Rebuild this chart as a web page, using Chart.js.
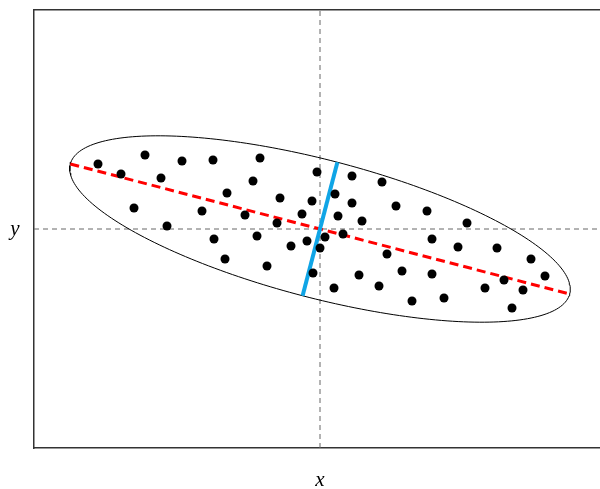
<!DOCTYPE html>
<html>
<head>
<meta charset="utf-8">
<title>Scatter with ellipse</title>
<script src="https://cdn.jsdelivr.net/npm/chart.js@4/dist/chart.umd.min.js"></script>
<style>
    html, body { margin: 0; padding: 0; background: #fff; overflow: hidden; }
    canvas { display: block; }
</style>
</head>
<body>
<canvas id="scatterChart" width="600" height="489"></canvas>
<script>
// Sample points (x, y)
const pointsX = [-2.22, -1.99, -1.75, -1.38, -1.07, -1.59, -1.86, -1.53, -1.18, -1.06,
    -0.95, -0.93, -0.75, -0.67, -0.60, -0.53, -0.63, -0.43, -0.40, -0.29,
    -0.18, -0.13, -0.08, -0.03, -0.07, 0.00, 0.05, 0.15, 0.18, 0.23,
    0.14, 0.32, 0.32, 0.42, 0.39, 0.62, 0.67, 0.59, 0.76, 0.82,
    0.92, 1.07, 1.12, 1.12, 1.24, 1.38, 1.47, 1.65, 1.77, 1.84,
    1.92, 2.03, 2.11, 2.25];
const pointsY = [0.65, 0.55, 0.74, 0.68, 0.69, 0.51, 0.21, 0.03, 0.18, -0.10,
    -0.30, 0.36, 0.14, 0.48, 0.71, -0.37, -0.07, 0.06, 0.31, -0.17,
    0.15, -0.12, 0.28, 0.57, -0.44, -0.19, -0.08, 0.35, 0.13, -0.05,
    -0.59, 0.53, 0.26, 0.08, -0.46, 0.47, -0.25, -0.57, 0.23, -0.42,
    -0.72, 0.18, -0.10, -0.45, -0.69, -0.18, 0.06, -0.59, -0.19, -0.51,
    -0.79, -0.61, -0.30, -0.47];

// Ellipse: centre, semi-axes and angle (degrees)
const ellipseCenter = [0, 0];
const ellipseAxes = [2.58, 0.69];
const ellipseAngle = -14.6;

// Axis limits
const xRange = [-2.86, 2.80];
const yRange = [-2.19, 2.19];

function ellipsePoint(t, ax, ay) {
    const th = ellipseAngle * Math.PI / 180;
    const ex = ax * Math.cos(t), ey = ay * Math.sin(t);
    return {
        x: ellipseCenter[0] + ex * Math.cos(th) - ey * Math.sin(th),
        y: ellipseCenter[1] + ex * Math.sin(th) + ey * Math.cos(th)
    };
}

const ellipseData = [];
for (let i = 0; i <= 240; i++) {
    ellipseData.push(ellipsePoint(2 * Math.PI * i / 240, ellipseAxes[0], ellipseAxes[1]));
}
const majorAxis = [ellipsePoint(Math.PI, ellipseAxes[0], ellipseAxes[1]), ellipsePoint(0, ellipseAxes[0], ellipseAxes[1])];
const minorAxis = [ellipsePoint(-Math.PI / 2, ellipseAxes[0], ellipseAxes[1]), ellipsePoint(Math.PI / 2, ellipseAxes[0], ellipseAxes[1])];

const scatterData = pointsX.map((x, i) => ({ x: x, y: pointsY[i] }));

// Draw italic axis letters
const axisLetters = {
    id: 'axisLetters',
    afterDraw(chart) {
        const ctx = chart.ctx;
        const xs = chart.scales.x, ys = chart.scales.y;
        ctx.save();
        ctx.fillStyle = '#000';
        ctx.font = 'italic 21px "Liberation Serif", "DejaVu Serif", serif';
        ctx.textAlign = 'center';
        ctx.textBaseline = 'middle';
        ctx.fillText('y', 15, ys.getPixelForValue(0));
        ctx.fillText('x', xs.getPixelForValue(0), chart.chartArea.bottom + 32);
        ctx.restore();
    }
};

const lineStyle = { showLine: true, pointRadius: 0, pointHoverRadius: 0, fill: false, tension: 0 };

new Chart(document.getElementById('scatterChart'), {
    type: 'scatter',
    data: {
        datasets: [
            {
                label: 'points',
                data: scatterData,
                pointRadius: 4.5,
                pointBackgroundColor: '#000',
                pointBorderWidth: 0,
                order: 0
            },
            Object.assign({
                label: 'minor',
                data: minorAxis,
                borderColor: '#10a5e6',
                borderWidth: 4,
                order: 1
            }, lineStyle),
            Object.assign({
                label: 'major',
                data: majorAxis,
                borderColor: '#ff0000',
                borderWidth: 3,
                borderDash: [9, 5],
                order: 2
            }, lineStyle),
            Object.assign({
                label: 'ellipse',
                data: ellipseData,
                borderColor: '#000',
                borderWidth: 1,
                order: 3
            }, lineStyle),
            Object.assign({
                label: 'y0',
                data: [{ x: xRange[0], y: 0 }, { x: xRange[1], y: 0 }],
                borderColor: '#666',
                borderWidth: 1,
                borderDash: [5, 4],
                order: 4
            }, lineStyle),
            Object.assign({
                label: 'x0',
                data: [{ x: 0, y: yRange[0] }, { x: 0, y: yRange[1] }],
                borderColor: '#666',
                borderWidth: 1,
                borderDash: [5, 4],
                order: 5
            }, lineStyle)
        ]
    },
    options: {
        responsive: false,
        animation: false,
        events: [],
        layout: { autoPadding: false, padding: { left: 34, top: 10, right: 0, bottom: 41 } },
        plugins: { legend: { display: false }, tooltip: { enabled: false } },
        scales: {
            x: {
                type: 'linear', min: xRange[0], max: xRange[1],
                ticks: { display: false },
                grid: { display: false, drawTicks: false },
                border: { display: true, color: '#333', width: 1.5 }
            },
            x2: {
                type: 'linear', position: 'top', min: xRange[0], max: xRange[1],
                ticks: { display: false },
                grid: { display: false, drawTicks: false },
                border: { display: true, color: '#333', width: 1.5 }
            },
            y: {
                type: 'linear', min: yRange[0], max: yRange[1],
                ticks: { display: false },
                grid: { display: false, drawTicks: false },
                border: { display: true, color: '#333', width: 1.5 }
            }
        }
    },
    plugins: [axisLetters]
});
</script>
</body>
</html>
